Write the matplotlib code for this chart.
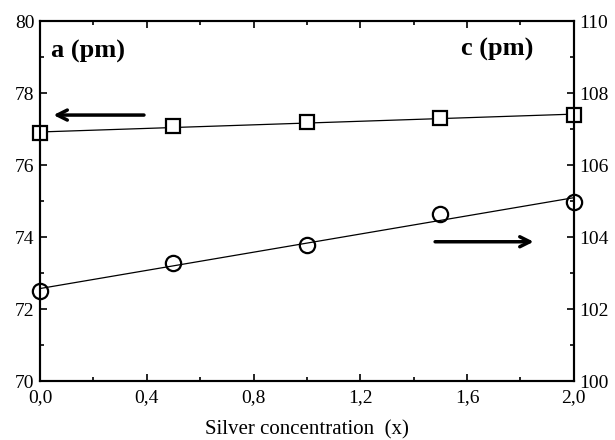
import numpy as np
import matplotlib.pyplot as plt
from matplotlib.ticker import MultipleLocator, FuncFormatter

plt.rcParams['font.family'] = ['Liberation Serif', 'DejaVu Serif']

# silver concentration x
x = [0.0, 0.5, 1.0, 1.5, 2.0]
# lattice parameter a (pm), left axis, squares
a_pm = [76.88, 77.08, 77.19, 77.30, 77.39]
# lattice parameter c (pm), right axis, circles
c_pm = [102.50, 103.27, 103.78, 104.64, 104.97]

fig = plt.figure(figsize=(6.15, 4.4), dpi=100)
ax = fig.add_axes([0.065, 0.134, 0.868, 0.818])
ax2 = ax.twinx()

xf = np.array([0.0, 2.0])
pa = np.polyfit(x, a_pm, 1)
pc = np.polyfit(x, c_pm, 1)

ax.plot(xf, np.polyval(pa, xf), color='black', lw=0.9, zorder=2)
ax.plot(x, a_pm, ls='none', marker='s', ms=10, mfc='white', mec='black', mew=1.6,
        clip_on=False, zorder=3)
ax2.plot(xf, np.polyval(pc, xf), color='black', lw=0.9, zorder=2)
ax2.plot(x, c_pm, ls='none', marker='o', ms=11, mfc='none', mec='black', mew=1.6,
         clip_on=False, zorder=3)

ax.set_xlim(0, 2.0)
ax.set_ylim(70, 80)
ax2.set_ylim(100, 110)

comma = FuncFormatter(lambda v, p: f'{v:.1f}'.replace('.', ','))
ax.xaxis.set_major_locator(MultipleLocator(0.4))
ax.xaxis.set_minor_locator(MultipleLocator(0.2))
ax.xaxis.set_major_formatter(comma)
ax.yaxis.set_major_locator(MultipleLocator(2))
ax.yaxis.set_minor_locator(MultipleLocator(1))
ax2.yaxis.set_major_locator(MultipleLocator(2))
ax2.yaxis.set_minor_locator(MultipleLocator(1))

ax.tick_params(axis='x', which='both', direction='in', top=True, labelsize=14, pad=6)
ax.tick_params(axis='y', which='both', direction='in', labelsize=14, pad=4)
ax2.tick_params(axis='y', which='both', direction='in', labelsize=14, pad=4)
for a in (ax, ax2):
    a.tick_params(which='major', length=5, width=1.2)
    a.tick_params(which='minor', length=3, width=1.2)
    for s in a.spines.values():
        s.set_linewidth(1.5)

# nudge the bottom y labels up a little, as in the original
ax.get_yticklabels()[0].set_va('bottom')
ax2.get_yticklabels()[0].set_va('bottom')

ax.set_xlabel('Silver concentration  (x)', fontsize=15, labelpad=10)

ax.text(0.04, 79.15, 'a (pm)', fontsize=19, fontweight='bold', va='center')
ax2.text(1.85, 109.2, 'c (pm)', fontsize=19, fontweight='bold', va='center', ha='right')

ax.annotate('', xy=(0.04, 77.39), xytext=(0.40, 77.39),
            arrowprops=dict(arrowstyle='->', lw=2.5, color='black',
                            mutation_scale=18))
ax2.annotate('', xy=(1.86, 103.87), xytext=(1.47, 103.87),
             arrowprops=dict(arrowstyle='->', lw=2.5, color='black',
                             mutation_scale=18))

plt.savefig('out.png', dpi=100)
